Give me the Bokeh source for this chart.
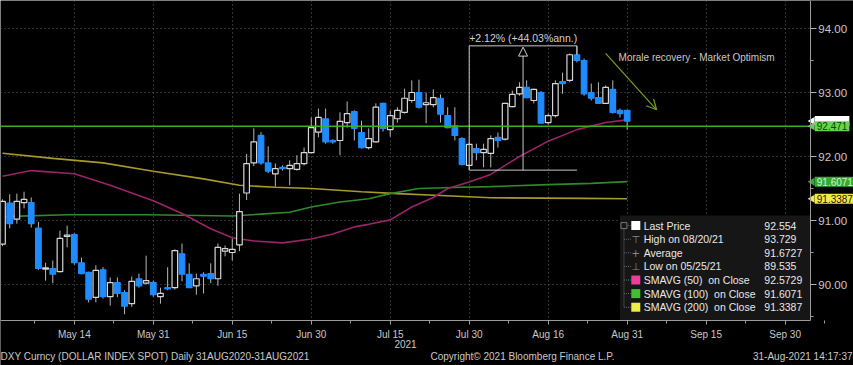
import math
import pandas as pd
from bokeh.plotting import figure
from bokeh.models import (FixedTicker, Label, ColumnDataSource, Arrow, OpenHead,
                          NormalHead, NumeralTickFormatter)
from bokeh.core.properties import value
from bokeh.embed import file_html
from bokeh.resources import INLINE

# ---------------- data ----------------
dates = pd.bdate_range("2021-04-30", "2021-08-31")

opens = [90.63, 91.27, 91.02, 91.28, 91.28, 90.88, 90.24, 90.25, 90.20, 90.75,
         90.78, 90.34, 90.19, 89.80, 90.23, 89.81, 90.03, 89.875, 89.70, 90.09,
         90.02, 90.03, 89.81, 89.95, 89.95, 90.48, 90.16, 89.98, 90.16, 90.17,
         90.09, 90.52, 90.50, 90.62, 91.43, 91.90, 92.33, 91.90, 91.73, 91.83,
         91.81, 91.80, 91.89, 92.06, 92.38, 92.59, 92.25, 92.25, 92.53, 92.70,
         92.375, 92.14, 92.23, 92.83, 92.42, 92.59, 92.69, 92.875, 93.00, 92.81,
         92.81, 92.91, 92.64, 92.48, 92.28, 91.86, 92.125, 92.06, 92.05, 92.30,
         92.27, 92.78, 92.98, 93.08, 92.875, 93.00, 92.53, 92.64, 93.17, 93.19,
         93.59, 93.50, 93.00, 92.92, 92.83, 93.05, 92.72, 92.72]
highs = [91.33, 91.41, 91.42, 91.45, 91.36, 90.98, 90.34, 90.375, 90.84, 90.92,
         90.80, 90.42, 90.20, 90.30, 90.27, 90.11, 90.11, 89.91, 90.125, 90.17,
         90.45, 90.06, 89.95, 90.27, 90.55, 90.64, 90.33, 90.17, 90.19, 90.33,
         90.64, 90.61, 90.72, 91.42, 92.04, 92.44, 92.38, 92.16, 91.89, 91.86,
         91.94, 92.02, 92.14, 92.61, 92.75, 92.75, 92.27, 92.69, 92.86, 92.72,
         92.56, 92.44, 92.83, 92.84, 92.72, 92.77, 93.06, 93.19, 93.20, 93.00,
         93.05, 92.97, 92.77, 92.77, 92.30, 92.22, 92.20, 92.20, 92.33, 92.375,
         92.84, 93.03, 93.16, 93.19, 93.06, 93.02, 92.67, 93.19, 93.31, 93.61,
         93.729, 93.53, 93.14, 93.16, 93.11, 93.19, 92.75, 92.72]
lows = [90.60, 90.88, 90.95, 91.19, 90.89, 90.23, 90.06, 90.02, 90.19, 90.58,
        90.31, 90.16, 89.72, 89.72, 89.78, 89.67, 89.80, 89.535, 89.65, 89.95,
        90.00, 89.81, 89.70, 89.91, 89.92, 90.05, 89.95, 89.84, 89.86, 90.02,
        89.98, 90.44, 90.375, 90.52, 91.32, 91.85, 91.87, 91.74, 91.53, 91.78,
        91.55, 91.78, 91.86, 92.05, 92.30, 92.20, 92.20, 92.02, 92.45, 92.25,
        92.125, 92.11, 92.22, 92.39, 92.31, 92.53, 92.67, 92.84, 92.75, 92.52,
        92.77, 92.53, 92.44, 92.25, 91.86, 91.79, 91.94, 91.83, 91.83, 92.14,
        92.25, 92.77, 92.95, 92.91, 92.83, 92.52, 92.50, 92.61, 92.98, 93.16,
        93.47, 92.95, 92.875, 92.83, 92.83, 92.67, 92.61, 92.42]
closes = [91.30, 90.95, 91.30, 91.33, 90.95, 90.25, 90.26, 90.16, 90.72, 90.77,
          90.34, 90.17, 89.77, 90.22, 89.81, 90.03, 89.86, 89.66, 90.05, 89.98,
          90.06, 89.84, 89.86, 89.93, 90.53, 90.16, 89.95, 90.09, 90.13, 90.09,
          90.58, 90.56, 90.55, 91.14, 91.89, 92.23, 91.90, 91.77, 91.81, 91.81,
          91.86, 91.89, 92.06, 92.45, 92.61, 92.23, 92.23, 92.55, 92.67, 92.44,
          92.14, 92.28, 92.77, 92.44, 92.64, 92.72, 92.91, 93.00, 92.77, 92.84,
          92.92, 92.66, 92.45, 92.33, 91.875, 92.19, 92.06, 92.11, 92.28, 92.25,
          92.83, 92.97, 93.08, 92.92, 93.05, 92.52, 92.64, 93.14, 93.14, 93.59,
          93.50, 92.98, 92.91, 92.83, 93.08, 92.69, 92.67, 92.554]

sma50_idx = [0, 4, 10, 15, 21, 25, 29, 32, 35, 39, 43, 46, 49, 51, 54, 57, 60,
             62, 65, 68, 72, 76, 80, 84, 87]
sma50_val = [91.69, 91.78, 91.73, 91.55, 91.31, 91.11, 90.87, 90.73, 90.68, 90.65,
             90.71, 90.79, 90.90, 90.94, 91.01, 91.21, 91.36, 91.50, 91.60, 91.72,
             92.00, 92.24, 92.42, 92.53, 92.5729]
sma100_idx = [0, 9, 20, 32, 36, 40, 43, 47, 51, 54, 58, 64, 68, 76, 82, 87]
sma100_val = [91.06, 91.09, 91.09, 91.07, 91.10, 91.13, 91.21, 91.29, 91.34, 91.42,
              91.50, 91.52, 91.53, 91.56, 91.58, 91.6071]
sma200_idx = [0, 7, 14, 21, 28, 33, 38, 43, 50, 55, 61, 68, 75, 81, 87]
sma200_val = [92.05, 91.97, 91.90, 91.77, 91.65, 91.55, 91.52, 91.50, 91.45, 91.42,
              91.39, 91.355, 91.35, 91.345, 91.3387]

ref_line = 92.471
last_price = 92.554
meas_low, meas_high = 91.787, 93.729
meas_from, meas_to = "2021-07-30", "2021-08-20"

tick_dates = ["2021-05-14", "2021-05-31", "2021-06-15", "2021-06-30", "2021-07-15",
              "2021-07-30", "2021-08-16", "2021-08-31", "2021-09-15", "2021-09-30"]
tick_labels = ["May 14", "May 31", "Jun 15", "Jun 30", "Jul 15", "Jul 30", "Aug 16",
               "Aug 31", "Sep 15", "Sep 30"]
y_ticks = [90, 91, 92, 93, 94]

legend_names = ["Last Price", "High on 08/20/21", "Average", "Low on 05/25/21",
                "SMAVG (50)\u00a0\u00a0on Close", "SMAVG (100)\u00a0\u00a0on Close",
                "SMAVG (200)\u00a0\u00a0on Close"]
legend_values = ["92.554", "93.729", "91.6727", "89.535", "92.5729", "91.6071", "91.3387"]

# ---------------- helpers ----------------
all_days = pd.bdate_range("2021-04-30", "2021-10-15")
def di(d):
    return int(all_days.get_loc(pd.Timestamp(d)))

FONT_S = "Liberation Sans"
FONT = value(FONT_S)
TXT = "#c8c8c8"
UP_LINE = "#d6d6d6"
DOWN = "#1f8bff"

W, H = 853, 365
PXX = 7.18          # px per weekday
PXY = 64.0          # px per index point
X0 = -0.28
XA = 112.5          # where the price axis sits
XR = X0 + W / PXX
Y1 = 94.4375
YA = 89.4375        # where the date axis sits
YB = Y1 - H / PXY

p = figure(width=W, height=H, output_backend="svg", toolbar_location=None,
           x_range=(X0, XR), y_range=(YB, Y1), y_axis_location="right",
           background_fill_color="black", border_fill_color="black", min_border=0)
p.outline_line_color = None

# axes (drawn at fixed places inside the frame)
p.xaxis.fixed_location = YA
p.yaxis.fixed_location = XA
p.xaxis.bounds = (X0, XA)
p.yaxis.bounds = (YA, Y1)
p.xaxis.ticker = FixedTicker(
    ticks=[di(d) for d in tick_dates],
    minor_ticks=[di(tick_dates[0]) - 11 + 5.5 * k for k in range(22)])
p.xaxis.major_label_overrides = {float(di(d)): l for d, l in zip(tick_dates, tick_labels)}
p.yaxis.ticker = FixedTicker(ticks=y_ticks, minor_ticks=[t + 0.5 for t in range(89, 95)])
p.yaxis.formatter = NumeralTickFormatter(format="0.00")
for ax in (p.xaxis[0], p.yaxis[0]):
    ax.axis_line_color = "#9a9a9a"
    ax.major_tick_line_color = "#b0b0b0"
    ax.minor_tick_line_color = "#9a9a9a"
    ax.major_tick_in = 0
    ax.minor_tick_in = 0
    ax.major_label_text_color = TXT
    ax.major_label_text_font = FONT_S
p.xaxis.major_tick_out = 4
p.xaxis.minor_tick_out = 3
p.xaxis.major_label_text_font_size = "10px"
p.xaxis.major_label_standoff = 4
p.yaxis.major_tick_out = 6
p.yaxis.minor_tick_out = 3
p.yaxis.major_label_text_font_size = "11.5px"
p.yaxis.major_label_standoff = 2

for g in (p.xgrid[0], p.ygrid[0]):
    g.grid_line_color = "#606060"
    g.grid_line_dash = "1 3"
    g.grid_line_width = 1

# keep the grid inside the price area
p.quad(left=[XA, X0], right=[XR, XA], top=[Y1, YA], bottom=[YB, YB],
       fill_color="black", line_color=None)

# moving averages
p.line(sma200_idx, sma200_val, line_color="#a89a2a", line_width=1.6)
p.line(sma100_idx, sma100_val, line_color="#2f8a28", line_width=1.6)
p.line(sma50_idx, sma50_val, line_color="#9a2468", line_width=1.6)

# candles
xs = list(range(len(dates)))
up = [c >= o for o, c in zip(opens, closes)]
src = ColumnDataSource(dict(
    x=xs, high=highs, low=lows,
    top=[max(o, c) for o, c in zip(opens, closes)],
    bottom=[min(o, c) for o, c in zip(opens, closes)],
    fill=["black" if u else DOWN for u in up],
    line=[UP_LINE if u else DOWN for u in up]))
p.segment(x0="x", y0="low", x1="x", y1="high", source=src, line_color="#b8b8b8",
          line_width=1)
p.vbar(x="x", width=0.78, top="top", bottom="bottom", source=src,
       fill_color="fill", line_color="line", line_width=1.2)

# horizontal reference line
p.line([X0, XA], [ref_line, ref_line], line_color="#3fae20", line_width=1.5)

# measurement annotation
m0, m1 = di(meas_from), di(meas_to)
mm = (m0 + m1) / 2
p.segment(x0=[m0, m0, m0, m1], y0=[meas_low, meas_high, meas_low, meas_high],
          x1=[m0, m1, m1, m1], y1=[meas_high, meas_high, meas_low, meas_high - 0.14],
          line_color="#c8c8c8", line_width=1)
p.add_layout(Arrow(x_start=mm, y_start=meas_low, x_end=mm, y_end=meas_high - 0.02,
                   line_color="#c8c8c8", line_width=1,
                   end=NormalHead(size=9, fill_color="black", line_color="#c8c8c8")))
p.add_layout(Label(x=m0, y=meas_high + 0.03, text="+2.12% (+44.03%ann.)",
                   text_font=FONT_S, text_font_size="10.5px", text_color="#d0d0d0",
                   text_baseline="bottom"))

# comment annotation
p.add_layout(Arrow(x_start=84.0, y_start=93.61, x_end=91.1, y_end=92.73,
                   line_color="#79a024", line_width=1.2,
                   end=OpenHead(size=10, line_color="#79a024", line_width=1.2)))
p.add_layout(Label(x=85.8, y=93.55, text="Morale recovery - Market Optimism",
                   text_font=FONT_S, text_font_size="10px", text_color="#c8c8c8",
                   text_baseline="middle"))

# legend panel
p.quad(left=[86.0], right=[XA], top=[91.08], bottom=[YA], fill_color="#161616",
       line_color=None)
row_step = 13.6 / PXY
rows_y = [90.92 - i * row_step for i in range(len(legend_names))]
p.segment(x0=[86.55], y0=[rows_y[0]], x1=[86.55], y1=[rows_y[-1]],
          line_color="#6a6a6a", line_dash="1 1", line_width=1)
p.segment(x0=[86.55] * 7, y0=rows_y, x1=[87.5] * 7, y1=rows_y,
          line_color="#6a6a6a", line_dash="1 1", line_width=1)
p.rect(x=[86.55], y=[rows_y[0]], width=6, height=6, width_units="screen",
       height_units="screen", fill_color="#161616", line_color="#7a7a7a")
sq_rows = [0, 4, 5, 6]
sq_cols = ["white", "#e8409a", "#46bb34", "#eeee44"]
p.rect(x=[88.2] * 4, y=[rows_y[i] for i in sq_rows], width=9, height=9,
       width_units="screen", height_units="screen", fill_color=sq_cols,
       line_color=None)
p.text(x=[88.2] * 3, y=[rows_y[i] for i in (1, 2, 3)], text=["\u22a4", "+", "\u22a5"],
       text_font=value("DejaVu Sans"), text_font_size="10px", text_color="#8a8a8a",
       text_align="center", text_baseline="middle")
p.text(x=[89.3] * 7, y=rows_y, text=legend_names, text_font=FONT,
       text_font_size="10.5px", text_color="#e8e8e8", text_baseline="middle")
p.text(x=[106.1] * 7, y=rows_y, text=legend_values, text_font=FONT,
       text_font_size="10.5px", text_color="#e8e8e8", text_baseline="middle")

# right-edge value tags
TAG_X = XA + 4.5 / PXX
def tag(v, txt, bg, fg):
    p.scatter(x=[XA + 2.0 / PXX], y=[v], marker="triangle", size=8,
              angle=math.pi / 2, fill_color=bg, line_color=None)
    p.add_layout(Label(x=TAG_X, y=v, text=txt, text_font=FONT_S,
                       text_font_size="10px", text_color=fg,
                       background_fill_color=bg, text_baseline="middle",
                       padding=(2, 1)))
tag(last_price, "92.554", "white", "white")
tag(ref_line, "92.471", "#62d650", "#123d0c")
tag(float(legend_values[5]), "91.6071", "#35a935", "#d0f5c8")
tag(float(legend_values[6]), "91.3387", "#f2e84a", "#202000")

# bottom texts
p.add_layout(Label(x=(405 - 2) / PXX, y=94 - (343 - 28) / PXY, text="2021",
                   text_font=FONT_S, text_font_size="10px", text_color=TXT,
                   text_align="center", text_baseline="middle"))
fy = 94 - (356 - 28) / PXY
p.add_layout(Label(x=X0, y=fy, text="DXY Curncy (DOLLAR INDEX SPOT)  Daily 31AUG2020-31AUG2021",
                   text_font=FONT_S, text_font_size="10px", text_color=TXT,
                   text_baseline="middle"))
p.add_layout(Label(x=(430 - 2) / PXX, y=fy, text="Copyright\u00a9 2021 Bloomberg Finance L.P.",
                   text_font=FONT_S, text_font_size="10px", text_color=TXT,
                   text_baseline="middle"))
p.add_layout(Label(x=(852 - 2) / PXX, y=fy, text="31-Aug-2021 14:17:37", text_font=FONT_S,
                   text_font_size="10px", text_color=TXT, text_align="right",
                   text_baseline="middle"))

open("out.html", "w").write(file_html(p, INLINE))
